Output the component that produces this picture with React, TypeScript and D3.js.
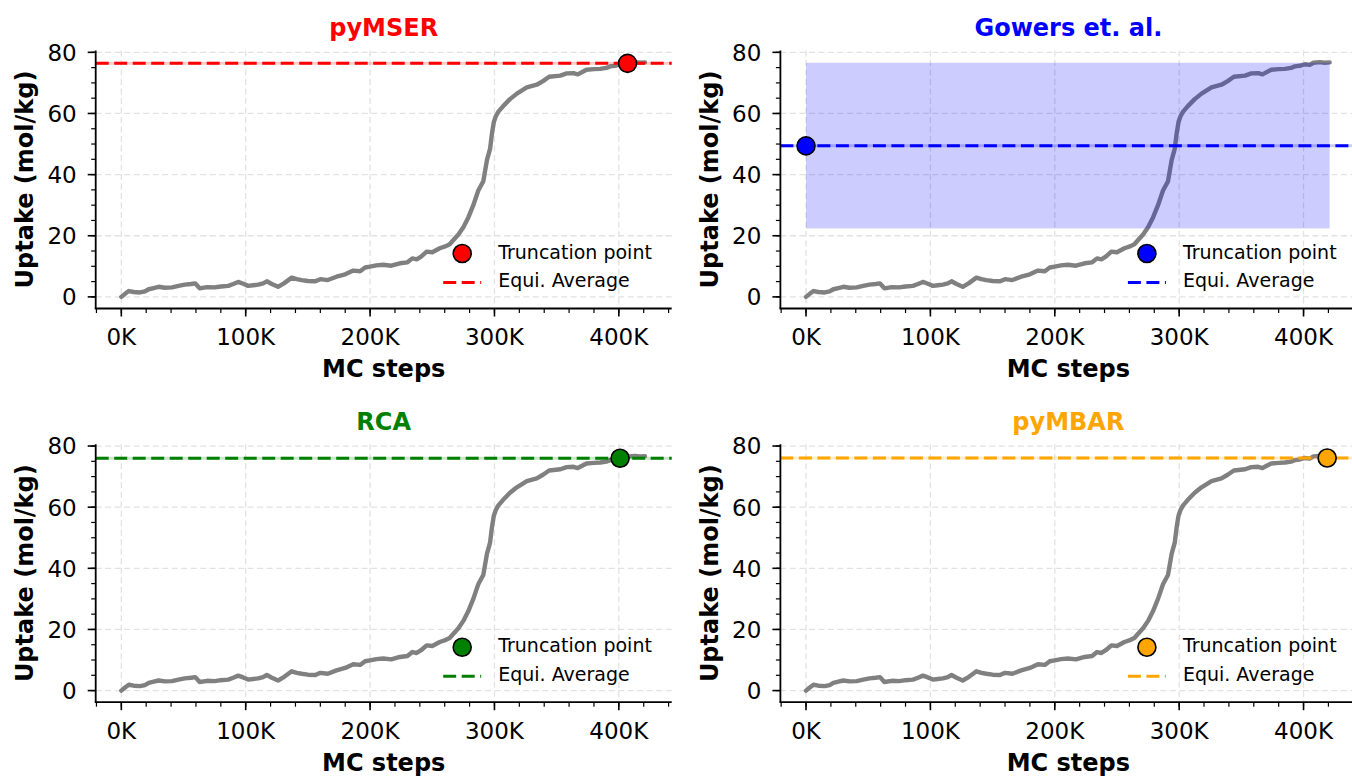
import React from 'react';
import * as d3 from 'd3';

// Adsorption trajectory: MC step (thousands) vs uptake (mol/kg)
const STEPS_K = [
  0, 3, 6, 10, 15, 19, 22, 26, 30, 35, 40.7, 46, 51, 56, 59.5, 63, 69, 75, 80, 86,
  90, 94, 98, 102, 106, 110, 114, 117, 121, 126, 131, 137, 141, 145, 150, 156, 160,
  166, 173, 180, 186.5, 192, 196, 200, 205, 210.5, 217, 224, 230, 234, 237.5, 241,
  245.5, 250, 256, 261, 264, 267, 271, 275, 279, 283, 287, 291, 294, 296.5, 298,
  299.5, 301, 303, 307, 312.5, 318, 326, 334, 339, 344, 353, 358, 363.5, 367, 374,
  380, 385, 390, 393, 397, 401, 405, 408, 413, 417, 421,
];
const UPTAKE = [
  0.0, 1.0, 1.9, 1.6, 1.45, 1.8, 2.5, 2.9, 3.3, 3.0, 3.1, 3.6, 4.0, 4.2, 4.4, 2.8,
  3.2, 3.1, 3.4, 3.6, 4.2, 4.9, 4.3, 3.6, 3.8, 4.0, 4.4, 5.1, 4.2, 3.3, 4.5, 6.3,
  5.8, 5.5, 5.2, 5.1, 5.8, 5.5, 6.6, 7.4, 8.6, 8.4, 9.6, 9.9, 10.3, 10.5, 10.2,
  11.0, 11.3, 12.6, 12.3, 13.2, 14.8, 14.6, 15.9, 16.6, 17.2, 18.6, 20.4, 22.8,
  26.0, 30.0, 34.8, 37.8, 44.8, 48.5, 53.5, 57.2, 59.0, 60.5, 62.4, 64.7, 66.5,
  68.5, 69.4, 70.6, 72.0, 72.4, 73.1, 73.2, 72.8, 74.3, 74.5, 74.6, 74.9, 75.4,
  75.6, 76.1, 75.9, 76.6, 76.8, 76.6, 76.7,
];

// Equilibration detection methods
const METHODS = ['pyMSER', 'Gowers et. al.', 'RCA', 'pyMBAR'];
const METHOD_COLORS = ['#ff0000', '#0000ff', '#008000', '#ffa500'];
const TRUNCATION_K = [407, 0, 401, 419];
const EQUI_AVERAGE = [76.4, 49.4, 76.0, 76.1];
const GOWERS_BAND = [22.4, 76.6];

const X_TICKS = [0, 100, 200, 300, 400];
const Y_TICKS = [0, 20, 40, 60, 80];
const X_MINOR = d3.range(-20, 441, 20);
const Y_MINOR = d3.range(0, 81, 5);
const X_DOMAIN: [number, number] = [-20.6, 442.5];
const Y_DOMAIN: [number, number] = [-3.8, 80.6];

const FONT = "'DejaVu Sans', sans-serif";
const PANEL_W = 576;
const PANEL_H = 258;
const ORIGINS: [number, number][] = [
  [95.7, 50.5],
  [780.4, 50.5],
  [95.7, 444.2],
  [780.4, 444.2],
];

const DASH = '13,5.5';

function Panel({ idx }: { idx: number }) {
  const [ox, oy] = ORIGINS[idx];
  const color = METHOD_COLORS[idx];
  const x = d3.scaleLinear().domain(X_DOMAIN).range([0, PANEL_W]);
  const y = d3.scaleLinear().domain(Y_DOMAIN).range([PANEL_H, 0]);
  const pts = STEPS_K.map((s, i) => [s, UPTAKE[i]] as [number, number]);
  const line = d3
    .line<[number, number]>()
    .x((d) => x(d[0]))
    .y((d) => y(d[1]))
    .curve(d3.curveLinear);
  const avgY = y(EQUI_AVERAGE[idx]);
  const isGowers = idx === 1;
  const legR = PANEL_W; // legend anchored to the right edge

  return (
    <g transform={`translate(${ox},${oy})`}>
      {/* grid */}
      <g stroke="#e2e2e2" strokeWidth={1.3} strokeDasharray="6,3.5">
        {X_TICKS.map((t) => (
          <line key={'gx' + t} x1={x(t)} x2={x(t)} y1={0} y2={PANEL_H} />
        ))}
        {Y_TICKS.map((t) => (
          <line key={'gy' + t} x1={0} x2={PANEL_W} y1={y(t)} y2={y(t)} />
        ))}
      </g>

      {/* trajectory */}
      <path
        d={line(pts) || ''}
        fill="none"
        stroke="#808080"
        strokeWidth={4.4}
        strokeLinejoin="round"
        strokeLinecap="round"
      />

      {isGowers && (
        <rect
          x={x(TRUNCATION_K[idx])}
          width={x(STEPS_K[STEPS_K.length - 1]) - x(TRUNCATION_K[idx])}
          y={y(GOWERS_BAND[1])}
          height={y(GOWERS_BAND[0]) - y(GOWERS_BAND[1])}
          fill="#0000ff"
          fillOpacity={0.2}
        />
      )}

      {/* equilibrium average */}
      <line x1={0} x2={PANEL_W} y1={avgY} y2={avgY} stroke={color} strokeOpacity={0.2} strokeWidth={3} />
      <line x1={0} x2={PANEL_W} y1={avgY} y2={avgY} stroke={color} strokeWidth={3} strokeDasharray={DASH} />

      {/* truncation point */}
      <circle
        cx={x(TRUNCATION_K[idx])}
        cy={avgY}
        r={9}
        fill={color}
        stroke="#000"
        strokeWidth={1.6}
      />

      {/* spines */}
      <line x1={0} x2={0} y1={0} y2={PANEL_H} stroke="#000" strokeWidth={1.8} />
      <line x1={-0.9} x2={PANEL_W} y1={PANEL_H} y2={PANEL_H} stroke="#000" strokeWidth={1.8} />

      {/* x ticks */}
      {X_MINOR.map((t) => (
        <line key={'xm' + t} x1={x(t)} x2={x(t)} y1={PANEL_H} y2={PANEL_H + 4.5} stroke="#000" strokeWidth={1.2} />
      ))}
      {X_TICKS.map((t) => (
        <g key={'xt' + t}>
          <line x1={x(t)} x2={x(t)} y1={PANEL_H} y2={PANEL_H + 8} stroke="#000" strokeWidth={1.6} />
          <text
            x={x(t)}
            y={PANEL_H + 36.7}
            textAnchor="middle"
            fontFamily={FONT}
            fontSize={23}
            fill="#000"
          >
            {`${t}K`}
          </text>
        </g>
      ))}

      {/* y ticks */}
      {Y_MINOR.map((t) => (
        <line key={'ym' + t} x1={-4.5} x2={0} y1={y(t)} y2={y(t)} stroke="#000" strokeWidth={1.2} />
      ))}
      {Y_TICKS.map((t) => (
        <g key={'yt' + t}>
          <line x1={-8} x2={0} y1={y(t)} y2={y(t)} stroke="#000" strokeWidth={1.6} />
          <text
            x={-19}
            y={y(t) + 8.4}
            textAnchor="end"
            fontFamily={FONT}
            fontSize={23}
            fill="#000"
          >
            {t}
          </text>
        </g>
      ))}

      {/* axis labels */}
      <text
        x={PANEL_W / 2}
        y={PANEL_H + 68.5}
        textAnchor="middle"
        fontFamily={FONT}
        fontWeight="bold"
        fontSize={24}
        fill="#000"
      >
        MC steps
      </text>
      <text
        transform={`translate(${-62.4},${PANEL_H / 2}) rotate(-90)`}
        textAnchor="middle"
        fontFamily={FONT}
        fontWeight="bold"
        fontSize={24}
        fill="#000"
      >
        Uptake (mol/kg)
      </text>

      {/* title */}
      <text
        x={PANEL_W / 2}
        y={-14.5}
        textAnchor="middle"
        fontFamily={FONT}
        fontWeight="bold"
        fontSize={24}
        fill={color}
      >
        {METHODS[idx]}
      </text>

      {/* legend */}
      <g fontFamily={FONT} fontSize={19} fill="#000">
        <circle cx={legR - 209.5} cy={PANEL_H - 55} r={9} fill={color} stroke="#000" strokeWidth={1.6} />
        <text x={legR - 173.5} y={PANEL_H - 50}>
          Truncation point
        </text>
        <line
          x1={legR - 228.5}
          x2={legR - 190.5}
          y1={PANEL_H - 26}
          y2={PANEL_H - 26}
          stroke={color}
          strokeWidth={3}
          strokeDasharray={DASH}
        />
        <text x={legR - 173.5} y={PANEL_H - 21.5}>
          Equi. Average
        </text>
      </g>
    </g>
  );
}

export default function App() {
  return (
    <svg
      width={1352}
      height={776}
      viewBox="0 0 1352 776"
      style={{ position: 'absolute', left: 0, top: 0, background: '#fff', display: 'block' }}
    >
      <rect width={1352} height={776} fill="#fff" />
      {METHODS.map((_, i) => (
        <Panel key={i} idx={i} />
      ))}
    </svg>
  );
}
